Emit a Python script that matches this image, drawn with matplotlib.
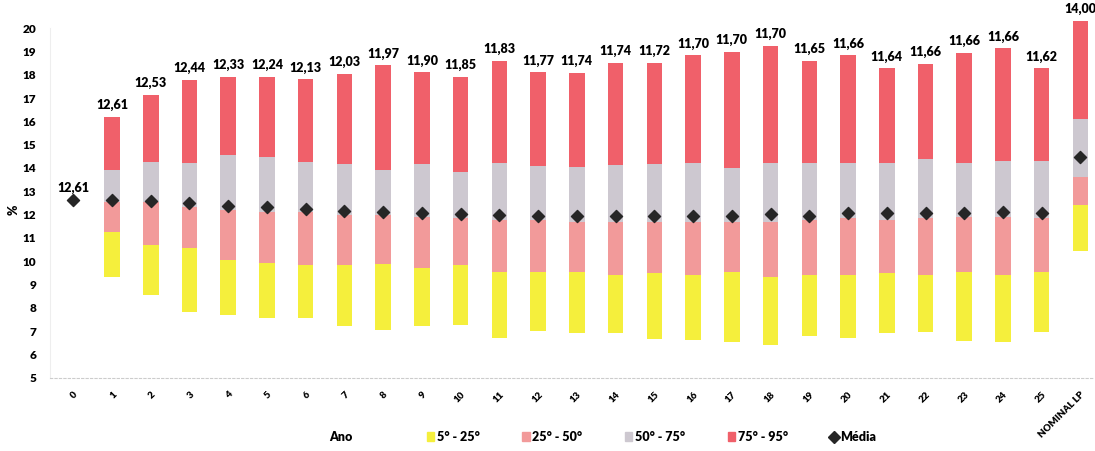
import matplotlib.pyplot as plt
from matplotlib.lines import Line2D
from matplotlib.patches import Patch

# categories (x axis)
anos = [str(i) for i in range(26)] + ["NOMINAL LP"]

# percentile boundaries (index 0 has no bar)
p5 = [None, 9.33, 8.56, 7.83, 7.70, 7.57, 7.57, 7.23, 7.06, 7.23, 7.27,
      6.71, 7.01, 6.93, 6.93, 6.67, 6.63, 6.54, 6.41, 6.80, 6.71,
      6.93, 6.97, 6.58, 6.54, 6.97, 10.44]
p25 = [None, 11.26, 10.70, 10.57, 10.06, 9.93, 9.84, 9.84, 9.88, 9.71, 9.84,
       9.54, 9.54, 9.54, 9.41, 9.50, 9.41, 9.54, 9.33, 9.41, 9.41,
       9.50, 9.41, 9.54, 9.41, 9.54, 12.41]
p50 = [None, 12.54, 12.54, 12.33, 12.20, 12.11, 12.11, 11.98, 11.98, 11.90, 11.86,
       11.77, 11.77, 11.69, 11.69, 11.69, 11.69, 11.69, 11.69, 11.77, 11.86,
       11.77, 11.86, 11.90, 11.90, 11.86, 13.61]
p75 = [None, 13.91, 14.26, 14.21, 14.56, 14.47, 14.26, 14.17, 13.91, 14.17, 13.83,
       14.21, 14.09, 14.04, 14.13, 14.17, 14.21, 14.00, 14.21, 14.21, 14.21,
       14.21, 14.38, 14.21, 14.30, 14.30, 16.10]
p95 = [None, 16.19, 17.13, 17.77, 17.90, 17.90, 17.81, 18.03, 18.41, 18.11, 17.90,
       18.59, 18.11, 18.07, 18.50, 18.50, 18.84, 18.97, 19.23, 18.59, 18.84,
       18.28, 18.46, 18.93, 19.14, 18.28, 20.30]

# mean marker position and its printed label
media = [12.63, 12.63, 12.60, 12.50, 12.37, 12.33, 12.24, 12.16, 12.11, 12.07, 12.03,
         11.98, 11.96, 11.94, 11.94, 11.94, 11.94, 11.96, 12.01, 11.96, 12.06,
         12.08, 12.06, 12.08, 12.11, 12.08, 14.47]
media_txt = ["12,61", "12,61", "12,53", "12,44", "12,33", "12,24", "12,13", "12,03",
             "11,97", "11,90", "11,85", "11,83", "11,77", "11,74", "11,74", "11,72",
             "11,70", "11,70", "11,70", "11,65", "11,66", "11,64", "11,66", "11,66",
             "11,66", "11,62", "14,00"]

c_yellow = "#f5ef3c"
c_pink = "#f29a9a"
c_grey = "#cdc8d0"
c_red = "#f0606a"

plt.rcParams["font.family"] = ["Lato", "DejaVu Sans"]

fig = plt.figure(figsize=(10.95, 4.51), dpi=100)
ax = fig.add_axes([0.0457, 0.1619, 0.9534, 0.776])

x = list(range(len(anos)))
w = 0.4
for i in x:
    if p5[i] is None:
        continue
    segs = [(p5[i], p25[i], c_yellow), (p25[i], p50[i], c_pink),
            (p50[i], p75[i], c_grey), (p75[i], p95[i], c_red)]
    for lo, hi, col in segs:
        ax.bar(i, hi - lo, bottom=lo, width=w, color=col, clip_on=False)

ax.scatter(x, media, marker="D", s=38, color="#262626", zorder=5, clip_on=False)

for i in x:
    top = media[i] if p95[i] is None else p95[i]
    ax.annotate(media_txt[i], (i, top), xytext=(0, 4), textcoords="offset points",
                ha="center", va="bottom", fontsize=9, fontweight="heavy",
                annotation_clip=False)

ax.set_xlim(-0.6, 26.35)
ax.set_ylim(5, 20)
ax.set_yticks(range(5, 21))
ax.set_xticks(x)
ax.set_xticklabels(anos, rotation=45, ha="right", rotation_mode="anchor",
                   fontsize=7, fontweight="heavy")
for lab in ax.get_yticklabels():
    lab.set_fontweight("heavy")
ax.tick_params(axis="y", length=0, labelsize=8.5, pad=10)
ax.tick_params(axis="x", length=0, pad=9)

for s in ["top", "right"]:
    ax.spines[s].set_visible(False)
ax.spines["left"].set_color("#eeeeee")
ax.spines["bottom"].set_color("#cccccc")
ax.spines["bottom"].set_linestyle((0, (2, 2)))
ax.spines["bottom"].set_linewidth(0.8)

fig.text(0.012, 0.535, "%", rotation=90, fontsize=9, fontweight="heavy",
         ha="center", va="center")
fig.text(0.311, 0.031, "Ano", fontsize=9, fontweight="heavy",
         ha="center", va="center")

handles = [
    Patch(color=c_yellow, label="5° - 25°"),
    Patch(color=c_pink, label="25° - 50°"),
    Patch(color=c_grey, label="50° - 75°"),
    Patch(color=c_red, label="75° - 95°"),
    Line2D([], [], marker="D", color="#262626", linestyle="none",
           markersize=6, label="Média"),
]
fig.legend(handles=handles, loc="center", bbox_to_anchor=(0.595, 0.031), ncol=5,
           frameon=False, handlelength=0.6, handleheight=0.7, handletextpad=0.2,
           columnspacing=3.4, prop={"weight": "heavy", "size": 9})

fig.savefig("out.png", dpi=100)
